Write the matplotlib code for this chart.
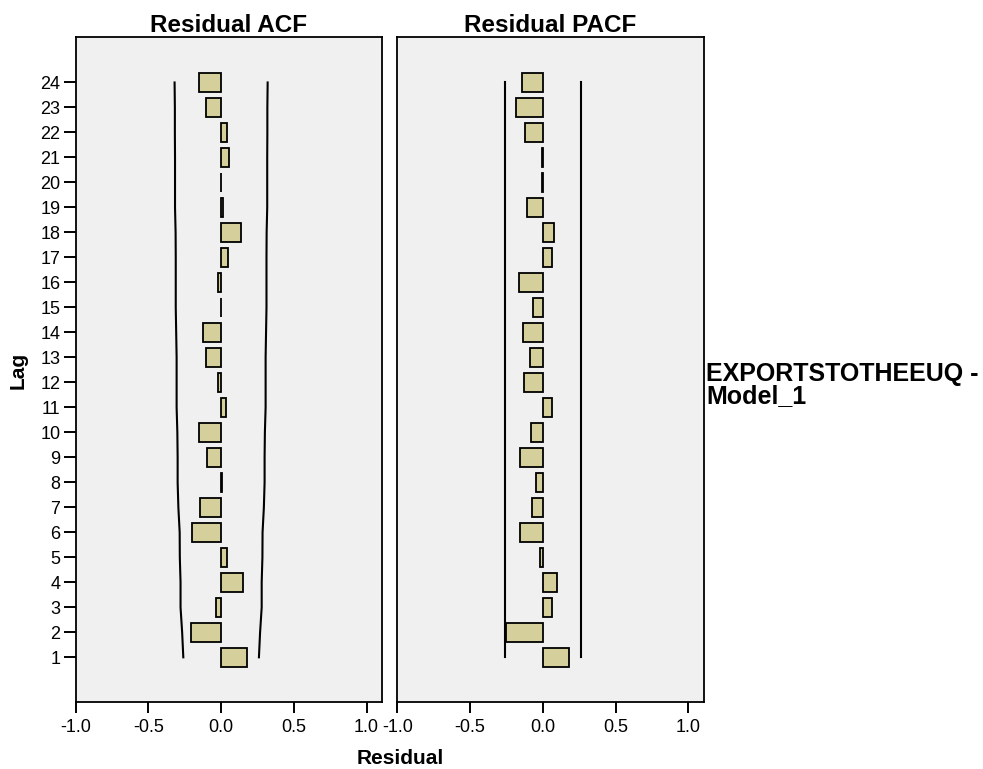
import matplotlib
matplotlib.use("Agg")
import matplotlib.pyplot as plt

plt.rcParams["font.family"] = ["Liberation Sans", "DejaVu Sans"]

# Residual autocorrelations by lag
lags = list(range(1, 25))
acf = [0.18, -0.21, -0.037, 0.149, 0.04, -0.199, -0.144, 0.003, -0.10, -0.149,
       0.034, -0.02, -0.103, -0.128, -0.004, -0.02, 0.05, 0.137, 0.01, -0.004,
       0.057, 0.04, -0.103, -0.149]
pacf = [0.18, -0.252, 0.062, 0.098, -0.02, -0.16, -0.073, -0.05, -0.156, -0.082,
        0.064, -0.13, -0.085, -0.135, -0.066, -0.167, 0.062, 0.08, -0.11, -0.005,
        -0.005, -0.124, -0.185, -0.142]
# 95% confidence limits
acf_limit = [0.260, 0.268, 0.279, 0.279, 0.284, 0.285, 0.294, 0.299, 0.299, 0.301,
             0.306, 0.306, 0.306, 0.309, 0.312, 0.312, 0.312, 0.313, 0.317, 0.317,
             0.317, 0.318, 0.318, 0.320]
pacf_limit = [0.260] * 24

x_ticks = [-1.0, -0.5, 0.0, 0.5, 1.0]
x_ticklabels = ["-1.0", "-0.5", "0.0", "0.5", "1.0"]
panel_titles = ["Residual ACF", "Residual PACF"]
series_label = "EXPORTSTOTHEEUQ -\nModel_1"

W, H = 983, 769
fig = plt.figure(figsize=(W / 100, H / 100), dpi=100)
fig.patch.set_facecolor("white")

bar_color = "#D4CF9B"
panel_bg = "#F0F0F0"
top_px, bottom_px = 37.0, 702.3
bottom = 1 - bottom_px / H
height = (bottom_px - top_px) / H
lefts = [75.7 / W, 397.4 / W]
width = 306.1 / W

axes = []
for i, (vals, lim, title) in enumerate(zip([acf, pacf], [acf_limit, pacf_limit], panel_titles)):
    ax = fig.add_axes([lefts[i], bottom, width, height])
    ax.set_facecolor(panel_bg)
    ax.barh(lags, vals, height=0.77, color=bar_color, edgecolor="black",
            linewidth=1.3, zorder=3)
    ax.plot([-v for v in lim], lags, color="black", lw=1.5, zorder=2)
    ax.plot(lim, lags, color="black", lw=1.5, zorder=2)
    ax.set_xlim(-1.0, 1.105)
    ax.set_ylim(-0.80, 25.82)
    ax.set_xticks(x_ticks)
    ax.set_xticklabels(x_ticklabels)
    ax.tick_params(axis="x", length=8, width=1.4, labelsize=13, pad=4)
    if i == 0:
        ax.set_yticks(lags)
        ax.set_yticklabels([str(l) for l in lags])
        ax.tick_params(axis="y", length=9, width=1.4, labelsize=13, pad=2)
    else:
        ax.set_yticks([])
    for s in ax.spines.values():
        s.set_linewidth(1.3)
        s.set_color("black")
    ax.set_title(title, fontsize=17.5, fontweight="bold", pad=3)
    axes.append(ax)

fig.text(18 / W, 1 - 370 / H, "Lag", rotation=90, ha="center", va="center",
         fontsize=15, fontweight="bold")
fig.text(400 / W, 1 - 758 / H, "Residual", ha="center", va="center",
         fontsize=15, fontweight="bold")
fig.text(706 / W, 1 - 385 / H, series_label, ha="left", va="center",
         fontsize=18, fontweight="bold", linespacing=0.9)

fig.savefig("out.png", dpi=100)
